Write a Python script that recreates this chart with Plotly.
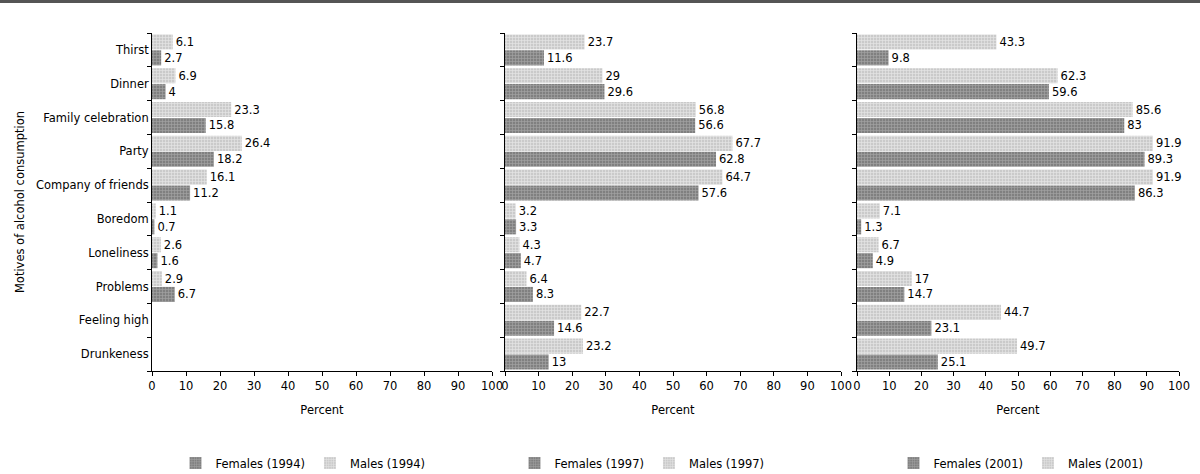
import plotly.graph_objects as go

categories = ["Thirst", "Dinner", "Family celebration", "Party", "Company of friends",
              "Boredom", "Loneliness", "Problems", "Feeling high", "Drunkeness"]

females_1994 = [2.7, 4, 15.8, 18.2, 11.2, 0.7, 1.6, 6.7, None, None]
males_1994 = [6.1, 6.9, 23.3, 26.4, 16.1, 1.1, 2.6, 2.9, None, None]
females_1997 = [11.6, 29.6, 56.6, 62.8, 57.6, 3.3, 4.7, 8.3, 14.6, 13]
males_1997 = [23.7, 29, 56.8, 67.7, 64.7, 3.2, 4.3, 6.4, 22.7, 23.2]
females_2001 = [9.8, 59.6, 83, 89.3, 86.3, 1.3, 4.9, 14.7, 23.1, 25.1]
males_2001 = [43.3, 62.3, 85.6, 91.9, 91.9, 7.1, 6.7, 17, 44.7, 49.7]

years = ["1994", "1997", "2001"]
series = [(females_1994, males_1994), (females_1997, males_1997), (females_2001, males_2001)]
x_ticks = list(range(0, 101, 10))

FONT = "DejaVu Sans"
FS = 11.5
W, H = 1200, 474
x_px = [(152, 492), (505, 841), (857, 1179)]
legend_cx = [303, 642, 1021]
y_top, y_bot = 33, 371

fig = go.Figure()

def txt(vals):
    return ["" if v is None else f"{v:g}" for v in vals]

fem_pat = dict(shape="+", bgcolor="#808080", fgcolor="#c4c4c4", size=3, solidity=0.4)
mal_pat = dict(shape="+", bgcolor="#cacaca", fgcolor="#ffffff", size=3, solidity=0.4)

for i, (yr, (f, m)) in enumerate(zip(years, series)):
    ax = "" if i == 0 else str(i + 1)
    lg = "legend" if i == 0 else f"legend{i+1}"
    fig.add_trace(go.Bar(
        y=categories, x=f, orientation="h", name=f"Females ({yr})",
        marker=dict(color="#808080", pattern=fem_pat, line=dict(width=0)),
        text=txt(f), textposition="outside", textfont=dict(family=FONT, size=FS, color="#000"),
        cliponaxis=False, xaxis="x" + ax, yaxis="y" + ax, legend=lg))
    fig.add_trace(go.Bar(
        y=categories, x=m, orientation="h", name=f"Males ({yr})",
        marker=dict(color="#cacaca", pattern=mal_pat, line=dict(width=0)),
        text=txt(m), textposition="outside", textfont=dict(family=FONT, size=FS, color="#000"),
        cliponaxis=False, xaxis="x" + ax, yaxis="y" + ax, legend=lg))

layout = dict(
    width=W, height=H, margin=dict(l=0, r=0, t=0, b=0, autoexpand=False),
    paper_bgcolor="white", plot_bgcolor="white",
    font=dict(family=FONT, size=FS, color="#000"),
    barmode="group", bargap=0.06, bargroupgap=0.05,
    shapes=[dict(type="line", xref="paper", yref="paper", x0=0, x1=1, y0=1 - 1.5 / H, y1=1 - 1.5 / H,
                 line=dict(color="#555", width=3))],
)

for i in range(3):
    sfx = "" if i == 0 else str(i + 1)
    x0, x1 = x_px[i]
    layout["xaxis" + sfx] = dict(
        domain=[x0 / W, x1 / W], range=[0, 100], tickvals=x_ticks, ticktext=[str(t) for t in x_ticks],
        showgrid=False, zeroline=False, showline=True, linecolor="#000", linewidth=1,
        ticks="outside", ticklen=4, tickcolor="#000", anchor="y" + sfx, automargin=False,
        tickfont=dict(family=FONT, size=FS, color="#000"),
        title=dict(text="Percent", font=dict(family=FONT, size=FS, color="#000"), standoff=14),
    )
    layout["yaxis" + sfx] = dict(
        domain=[1 - y_bot / H, 1 - y_top / H], type="category",
        categoryorder="array", categoryarray=categories[::-1],
        showgrid=False, zeroline=False, showline=True, linecolor="#000", linewidth=1,
        ticks="outside", ticklen=4, tickcolor="#000", tickson="boundaries",
        showticklabels=(i == 0), anchor="x" + sfx, automargin=False,
        tickfont=dict(family=FONT, size=FS, color="#000"),
        title=dict(text="Motives of alcohol consumption" if i == 0 else "",
                   font=dict(family=FONT, size=FS, color="#000"), standoff=8),
    )
    lg = "legend" if i == 0 else f"legend{i+1}"
    layout[lg] = dict(orientation="h", x=legend_cx[i] / W, xanchor="center",
                      y=1 - 463 / H, yanchor="middle", font=dict(family=FONT, size=FS, color="#000"),
                      bgcolor="rgba(0,0,0,0)", itemwidth=30, tracegroupgap=0)

fig.update_layout(**layout)
fig.write_html("out.html", config={"displayModeBar": False},
               post_script="document.body.style.margin='0px';document.body.style.overflow='hidden';")
